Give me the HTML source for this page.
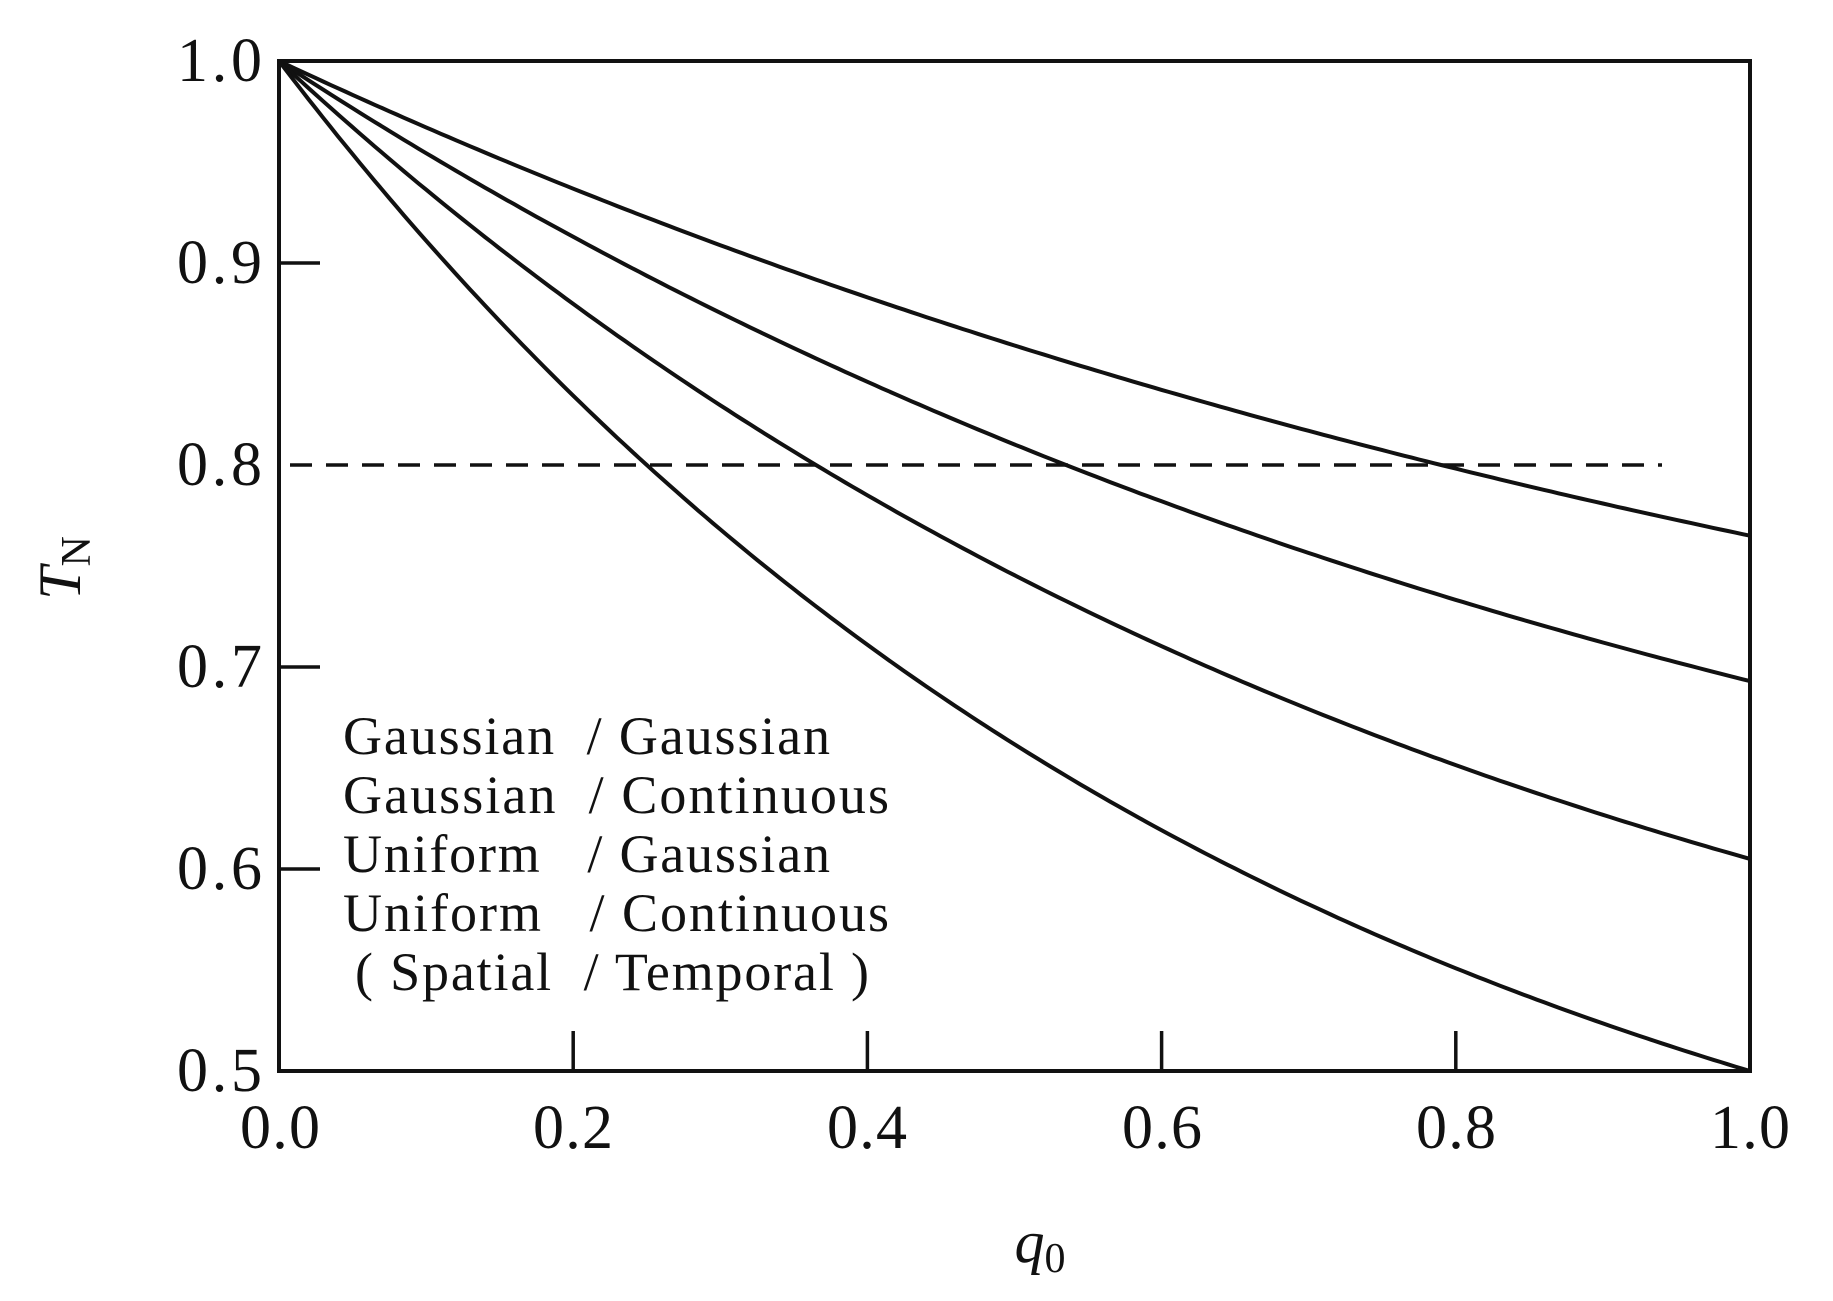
<!DOCTYPE html>
<html><head><meta charset="utf-8"><style>
html,body{margin:0;padding:0;background:#fff}
svg{display:block}
text{font-family:"Liberation Serif",serif;fill:#111}
</style></head><body>
<svg id="s" width="1833" height="1301" viewBox="0 0 1833 1301" xmlns="http://www.w3.org/2000/svg">
<g stroke="#111" stroke-width="3.5" fill="none">
<line x1="279" y1="263" x2="320" y2="263"/>
<line x1="279" y1="667" x2="320" y2="667"/>
<line x1="279" y1="869" x2="320" y2="869"/>
<line x1="573.2" y1="1071" x2="573.2" y2="1031"/>
<line x1="867.4" y1="1071" x2="867.4" y2="1031"/>
<line x1="1161.6" y1="1071" x2="1161.6" y2="1031"/>
<line x1="1455.8" y1="1071" x2="1455.8" y2="1031"/>
<line x1="290" y1="465" x2="1662" y2="465" stroke-dasharray="22,14"/>
<g id="curves" stroke-width="4"></g>
<rect x="279" y="61" width="1471" height="1010" stroke-width="4"/>
</g>
<g font-size="62" text-anchor="end">
<text x="262" y="81" textLength="85">1.0</text>
<text x="262" y="283" textLength="85">0.9</text>
<text x="262" y="485" textLength="85">0.8</text>
<text x="262" y="687" textLength="85">0.7</text>
<text x="262" y="889" textLength="85">0.6</text>
<text x="262" y="1091" textLength="85">0.5</text>
</g>
<g font-size="62">
<text x="240" y="1148" textLength="80">0.0</text>
<text x="533" y="1148" textLength="80">0.2</text>
<text x="827" y="1148" textLength="80">0.4</text>
<text x="1122" y="1148" textLength="80">0.6</text>
<text x="1416" y="1148" textLength="80">0.8</text>
<text x="1710" y="1148" textLength="80">1.0</text>
</g>
<text x="1040" y="1262" font-size="60" font-style="italic" text-anchor="middle">q<tspan font-size="42" font-style="normal" dy="10">0</tspan></text>
<text transform="translate(80,568) rotate(-90)" font-size="60" text-anchor="middle"><tspan font-style="italic">T</tspan><tspan font-size="42" dy="10">N</tspan></text>
<g font-size="54">
<text x="343" y="754" textLength="487">Gaussian&#160;&#160;/ Gaussian</text>
<text x="343" y="813" textLength="546">Gaussian&#160;&#160;/ Continuous</text>
<text x="343" y="872" textLength="487">Uniform&#160;&#160;&#160;/ Gaussian</text>
<text x="343" y="931" textLength="546">Uniform&#160;&#160;&#160;/ Continuous</text>
<text x="355" y="990" textLength="514">( Spatial&#160;&#160;/ Temporal )</text>
</g>
</svg>
<script>
(function(){
var X0=279,X1=1750,Y0=61,Y1=1071;
function px(q){return X0+q*(X1-X0);}
function py(t){return Y1-(t-0.5)/0.5*(Y1-Y0);}
var specs=[[0.79,0.765],[0.535,0.693],[0.365,0.605],[0.25,0.5]];
var g=document.getElementById('curves'),ns='http://www.w3.org/2000/svg';
specs.forEach(function(s){
 var qc=s[0],T1=s[1];
 function f(k){var a=(1-Math.exp(-k*qc)),b=(1-Math.exp(-k));return 0.2/a-(1-T1)/b;}
 var lo=0.001,hi=20;
 for(var i=0;i<100;i++){var m=(lo+hi)/2;if(f(lo)*f(m)<=0)hi=m;else lo=m;}
 var k=(lo+hi)/2,A=(1-T1)/(1-Math.exp(-k)),r=1-A;
 var d='';
 for(var j=0;j<=200;j++){var q=j/200,t=r+A*Math.exp(-k*q);d+=(j?'L':'M')+px(q).toFixed(1)+','+py(t).toFixed(1);}
 var p=document.createElementNS(ns,'path');p.setAttribute('d',d);g.appendChild(p);
});
})();
</script>
</body></html>
